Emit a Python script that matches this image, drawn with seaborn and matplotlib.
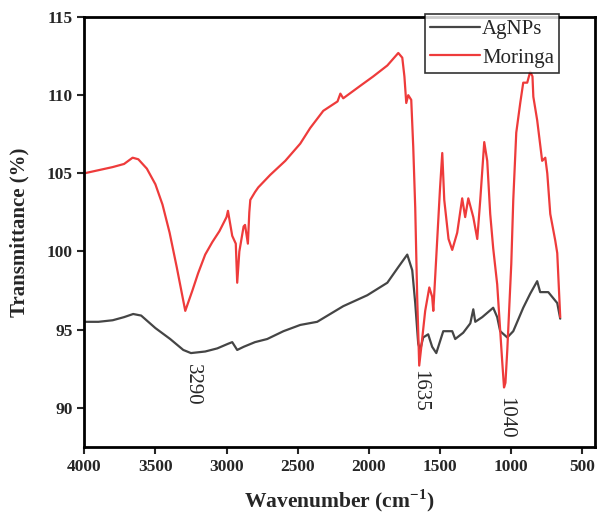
import matplotlib
matplotlib.use("Agg")
import matplotlib.pyplot as plt
import pandas as pd
import seaborn as sns

# Moringa extract spectrum (wavenumber in cm-1, transmittance in %)
MORINGA_WN = [4000, 3900, 3800, 3720, 3660, 3620, 3560, 3500, 3450, 3400, 3350, 3290,
              3240, 3200, 3150, 3100, 3050, 3000, 2990, 2960, 2935, 2925, 2910, 2880,
              2870, 2850, 2840, 2833, 2800, 2777, 2693, 2587, 2482, 2412, 2320, 2220,
              2200, 2180, 2060, 1969, 1870, 1793, 1765, 1750, 1737, 1723, 1702, 1688,
              1674, 1660, 1646, 1630, 1604, 1575, 1555, 1547, 1533, 1500, 1484, 1470,
              1440, 1414, 1379, 1344, 1323, 1301, 1266, 1238, 1217, 1189, 1168, 1147,
              1126, 1098, 1063, 1050, 1040, 1027, 999, 985, 964, 936, 915, 887, 866,
              850, 844, 817, 782, 760, 746, 725, 690, 676, 655]
MORINGA_T = [105.0, 105.2, 105.4, 105.6, 106.0, 105.9, 105.3, 104.3, 103.0, 101.2, 99.0, 96.2,
             97.5, 98.6, 99.8, 100.6, 101.3, 102.2, 102.6, 101.0, 100.5, 98.0, 100.0, 101.6,
             101.7, 100.5, 102.5, 103.3, 103.8, 104.1, 104.9, 105.8, 106.9, 107.9, 109.0, 109.6,
             110.1, 109.8, 110.6, 111.2, 111.9, 112.7, 112.4, 111.2, 109.5, 110.0, 109.7, 106.7,
             102.8, 97.0, 92.7, 94.0, 96.2, 97.7, 97.1, 96.2, 98.5, 104.0, 106.3, 103.3,
             100.8, 100.1, 101.2, 103.4, 102.2, 103.4, 102.2, 100.8, 103.3, 107.0, 105.8, 102.4,
             100.2, 97.9, 93.0, 91.3, 91.6, 93.7, 99.2, 103.3, 107.6, 109.5, 110.8, 110.8, 111.5,
             111.2, 109.9, 108.4, 105.8, 106.0, 105.0, 102.4, 100.7, 99.9, 95.8]

# AgNPs spectrum
AGNPS_WN = [4000, 3900, 3800, 3720, 3656, 3600, 3500, 3396, 3304, 3250, 3150, 3065,
            2988, 2960, 2925, 2880, 2800, 2714, 2600, 2482, 2363, 2180, 2011, 1870,
            1793, 1730, 1695, 1674, 1653, 1639, 1618, 1583, 1555, 1526, 1498, 1477,
            1414, 1393, 1337, 1287, 1266, 1252, 1203, 1126, 1098, 1077, 1027, 985,
            915, 866, 817, 796, 739, 676, 655]
AGNPS_T = [95.5, 95.5, 95.6, 95.8, 96.0, 95.9, 95.1, 94.4, 93.7, 93.5, 93.6, 93.8,
           94.1, 94.2, 93.7, 93.9, 94.2, 94.4, 94.9, 95.3, 95.5, 96.5, 97.2, 98.0,
           99.0, 99.8, 98.8, 96.7, 94.1, 93.7, 94.5, 94.7, 93.9, 93.5, 94.3, 94.9,
           94.9, 94.4, 94.8, 95.4, 96.3, 95.5, 95.8, 96.4, 95.8, 94.9, 94.5, 94.9,
           96.4, 97.3, 98.1, 97.4, 97.4, 96.7, 95.7]

PEAK_LABELS = ["3290", "1635", "1040"]
PEAK_POS = [3240, 1640, 1035]
PEAK_Y = [92.8, 92.4, 90.7]

XTICKS = [4000, 3500, 3000, 2500, 2000, 1500, 1000, 500]
YTICKS = [90, 95, 100, 105, 110, 115]

sns.set_theme(style="white")
plt.rcParams["font.family"] = ["Liberation Serif", "DejaVu Serif"]
plt.rcParams["mathtext.fontset"] = "custom"
plt.rcParams["mathtext.rm"] = "Liberation Serif:bold"
plt.rcParams["mathtext.bf"] = "Liberation Serif:bold"

df = pd.concat([
    pd.DataFrame({"wn": AGNPS_WN, "T": AGNPS_T, "sample": "AgNPs"}),
    pd.DataFrame({"wn": MORINGA_WN, "T": MORINGA_T, "sample": "Moringa"}),
])

fig = plt.figure(figsize=(6.06, 5.16), dpi=100)
ax = fig.add_axes([0.139, 0.134, 0.843, 0.833])

sns.lineplot(data=df, x="wn", y="T", hue="sample", sort=False, estimator=None,
             palette={"AgNPs": "#454545", "Moringa": "#EE3B3B"}, linewidth=1.6, ax=ax)

ax.set_xlim(4000, 410)
ax.set_ylim(87.5, 115)
ax.set_xticks(XTICKS)
ax.set_yticks(YTICKS)
ax.tick_params(axis="both", direction="out", length=5, width=1.5, labelsize=12.5,
               bottom=True, left=True)
for lbl in ax.get_xticklabels() + ax.get_yticklabels():
    lbl.set_fontweight("bold")
for s in ax.spines.values():
    s.set_linewidth(2)
    s.set_color("black")

ax.set_xlabel("Wavenumber (cm$^{-1}$)", fontsize=15.5, fontweight="bold", labelpad=9)
ax.set_ylabel("Transmittance (%)", fontsize=15, fontweight="bold", labelpad=12)

for txt, x, y in zip(PEAK_LABELS, PEAK_POS, PEAK_Y):
    ax.text(x, y, txt, rotation=270, ha="center", va="top", fontsize=15)

leg = ax.legend(loc="upper right", bbox_to_anchor=(0.93, 1.007), frameon=True,
                fontsize=15, handlelength=2.4, handletextpad=0.1, borderpad=0.25,
                labelspacing=0.45, fancybox=False, borderaxespad=0)
leg.get_frame().set_edgecolor("black")
leg.get_frame().set_linewidth(1.2)
leg.set_title(None)

fig.savefig("out.png", dpi=100)
